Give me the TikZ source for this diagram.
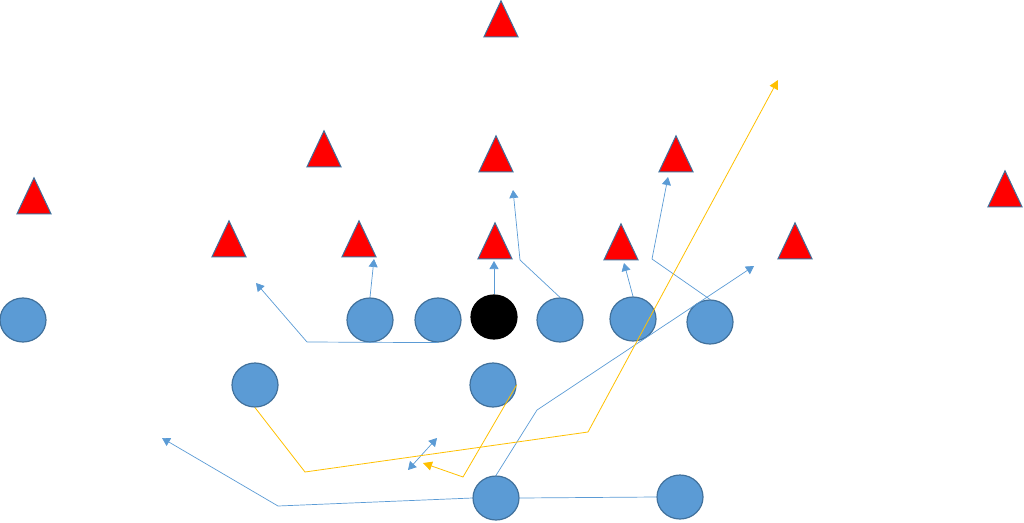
\documentclass[tikz,border=0pt]{standalone}
\usetikzlibrary{shapes.geometric,arrows.meta}
\definecolor{pblue}{HTML}{5B9BD5}
\definecolor{pedge}{HTML}{41719C}
\definecolor{ygold}{HTML}{FFC000}

\begin{document}
\begin{tikzpicture}[x=1pt,y=-1pt,
    player/.style={ellipse,draw=pedge,fill=pblue,line width=1.2pt,minimum width=46pt,minimum height=44pt,inner sep=0pt},
    defender/.style={isosceles triangle,isosceles triangle stretches,shape border rotate=90,draw=pedge,fill=red,line width=1pt,minimum width=34pt,minimum height=36pt,inner sep=0pt},
    route/.style={draw=pblue,line width=0.7pt,-{Triangle[length=8pt,width=9pt]}},
    option/.style={draw=ygold,line width=0.8pt,-{Triangle[length=9pt,width=9pt]}}]
\useasboundingbox (0,0) rectangle (1024,522);
% defense
\node[defender] (D_1) at (501,26) {};
\node[defender] (D_2) at (324,156) {};
\node[defender] (D_3) at (496,161) {};
\node[defender] (D_4) at (676,161) {};
\node[defender] (D_5) at (34,203) {};
\node[defender] (D_6) at (1005,196) {};
\node[defender] (D_7) at (229,246) {};
\node[defender] (D_8) at (359,246) {};
\node[defender] (D_9) at (495,248) {};
\node[defender] (D_10) at (621,249) {};
\node[defender] (D_11) at (795,248) {};
% offense
\node[player] (O_1) at (23,320) {};
\node[player] (O_2) at (370,320) {};
\node[player] (O_3) at (438,320) {};
\node[player,fill=black,draw=black] (O_4) at (494,317) {};
\node[player] (O_5) at (560,320) {};
\node[player] (O_6) at (633,319) {};
\node[player] (O_7) at (710,322) {};
\node[player] (O_8) at (255,385) {};
\node[player] (O_9) at (493,385) {};
\node[player] (O_10) at (496,498) {};
\node[player] (O_11) at (680,497) {};
% route points
\coordinate (R_1) at (307,342);
\coordinate (R_2) at (256,283);
\coordinate (R_3) at (374,259);
\coordinate (R_4) at (494,261);
\coordinate (R_5) at (520,260);
\coordinate (R_6) at (513,190);
\coordinate (R_7) at (624,263);
\coordinate (R_8) at (652,259);
\coordinate (R_9) at (668,177);
\coordinate (R_10) at (537,410);
\coordinate (R_11) at (754,266);
\coordinate (R_12) at (278,506);
\coordinate (R_13) at (162,438);
\coordinate (R_14) at (408,470);
\coordinate (R_15) at (437,438);
\coordinate (Y_1) at (305,472);
\coordinate (Y_2) at (588,432);
\coordinate (Y_3) at (778,80);
\coordinate (Y_4) at (463,477);
\coordinate (Y_5) at (423,463);
% routes
\draw[route] (O_3.south) -- (R_1) -- (R_2);
\draw[route] (O_2.north) -- (R_3);
\draw[route] (O_4.north) -- (R_4);
\draw[route] (O_5.north) -- (R_5) -- (R_6);
\draw[route] (O_6.north) -- (R_7);
\draw[route] (O_7.north) -- (R_8) -- (R_9);
\draw[route] (O_10.north) -- (R_10) -- (R_11);
\draw[route,-] (O_11.west) -- (O_10.east);
\draw[route] (O_10.west) -- (R_12) -- (R_13);
\draw[route,{Triangle[length=8pt,width=9pt]}-{Triangle[length=8pt,width=9pt]}] (R_14) -- (R_15);
\draw[option] (O_8.south) -- (Y_1) -- (Y_2) -- (Y_3);
\draw[option] (O_9.east) -- (Y_4) -- (Y_5);
\end{tikzpicture}
\end{document}
